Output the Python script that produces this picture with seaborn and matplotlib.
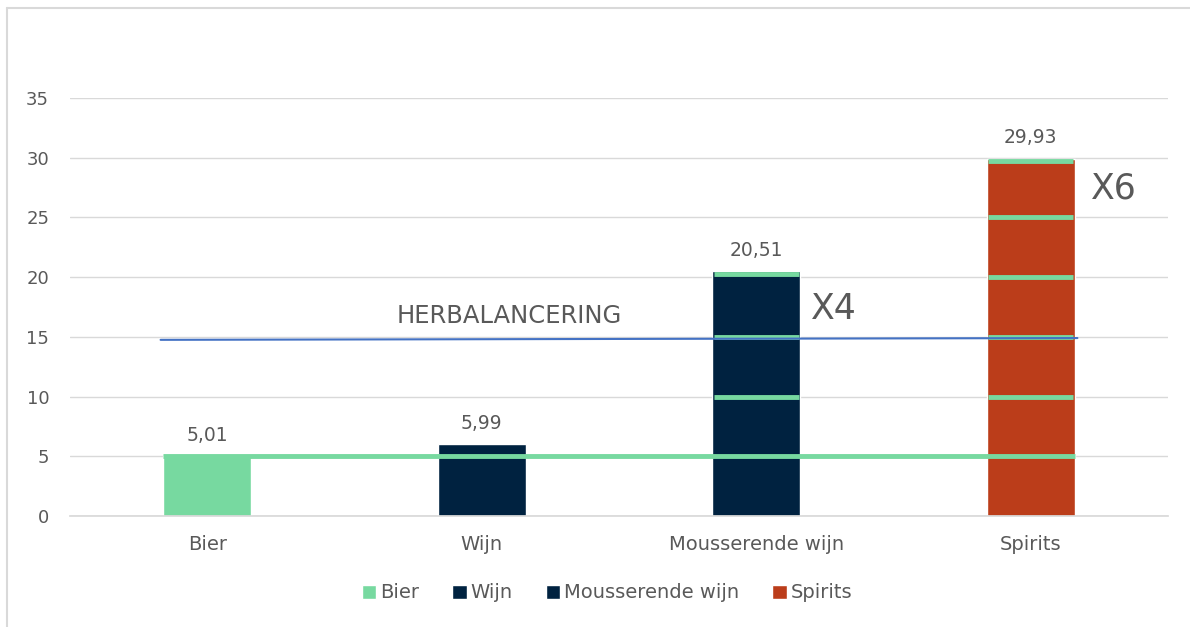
import matplotlib
matplotlib.use("Agg")
import matplotlib.pyplot as plt
import seaborn as sns
import pandas as pd
from matplotlib.lines import Line2D

categories = ["Bier", "Wijn", "Mousserende wijn", "Spirits"]
values = [5.01, 5.99, 20.51, 29.93]
value_labels = ["5,01", "5,99", "20,51", "29,93"]
colors = ["#77D9A0", "#002240", "#002240", "#BB3D1A"]
yticks = [0, 5, 10, 15, 20, 25, 30, 35]

base_level = 5
rebalance_level = [14.75, 14.9]
segments_mousserende = [10, 15, 20.3]
segments_spirits = [10, 15, 20, 25, 29.7]
multipliers = ["X4", "X6"]

sns.set_theme(style="white")
plt.rcParams["font.family"] = ["DejaVu Sans"]
txt = "#595959"
green = "#77D9A0"

fig = plt.figure(figsize=(11.9, 6.27), dpi=100)
ax = fig.add_axes([70/1190, 1-516/627, 1098/1190, 418/627])

df = pd.DataFrame({"cat": categories, "val": values})
sns.barplot(data=df, x="cat", y="val", hue="cat", palette=colors,
            width=0.32, dodge=False, ax=ax, legend=True, saturation=1)

ax.set_xlim(-0.5, 3.5)
ax.set_ylim(0, 35)
ax.set_yticks(yticks)
ax.grid(axis="y", color="#D9D9D9", lw=1)
ax.set_axisbelow(True)
for s in ["top", "right", "left"]:
    ax.spines[s].set_visible(False)
ax.spines["bottom"].set_color("#D9D9D9")
ax.set_xlabel("")
ax.set_ylabel("")
ax.tick_params(axis="y", labelsize=13, labelcolor=txt, pad=15, length=0)
ax.tick_params(axis="x", labelsize=14, labelcolor=txt, pad=14, length=0)

# value labels
for i, (v, lab) in enumerate(zip(values, value_labels)):
    ax.annotate(lab, (i, v), xytext=(0, 8), textcoords="offset points",
                ha="center", va="bottom", fontsize=13.5, color=txt)

# green lines
ax.hlines(base_level, -0.16, 3.16, color=green, lw=3.5, zorder=3)
hw = 0.155
for y in segments_mousserende:
    ax.hlines(y, 2 - hw, 2 + hw, color=green, lw=3.5, zorder=3)
for y in segments_spirits:
    ax.hlines(y, 3 - hw, 3 + hw, color=green, lw=3.5, zorder=3)

# rebalance line
ax.plot([-0.17, 3.17], rebalance_level, color="#4472C4", lw=1.5, zorder=4)
ax.text(1.10, 16.75, "HERBALANCERING", ha="center", va="center",
        fontsize=17.5, color=txt)
ax.text(2.20, 17.3, multipliers[0], ha="left", va="center", fontsize=25, color=txt)
ax.text(3.22, 27.4, multipliers[1], ha="left", va="center", fontsize=25, color=txt)

# legend
handles, labels = ax.get_legend_handles_labels()
ax.legend(handles, labels, loc="center", bbox_to_anchor=(607/1190, 1-593/627),
          bbox_transform=fig.transFigure, ncol=4, frameon=False,
          handlelength=0.75, handleheight=0.75, handletextpad=0.2,
          columnspacing=1.7, fontsize=14, labelcolor=txt)

# chart border
fig.add_artist(Line2D([7/1190, 7/1190], [0, 1-8/627], transform=fig.transFigure,
                      color="#D9D9D9", lw=1.5))
fig.add_artist(Line2D([7/1190, 1], [1-8/627, 1-8/627], transform=fig.transFigure,
                      color="#D9D9D9", lw=1.5))

fig.savefig("out.png", dpi=100, facecolor="white")
